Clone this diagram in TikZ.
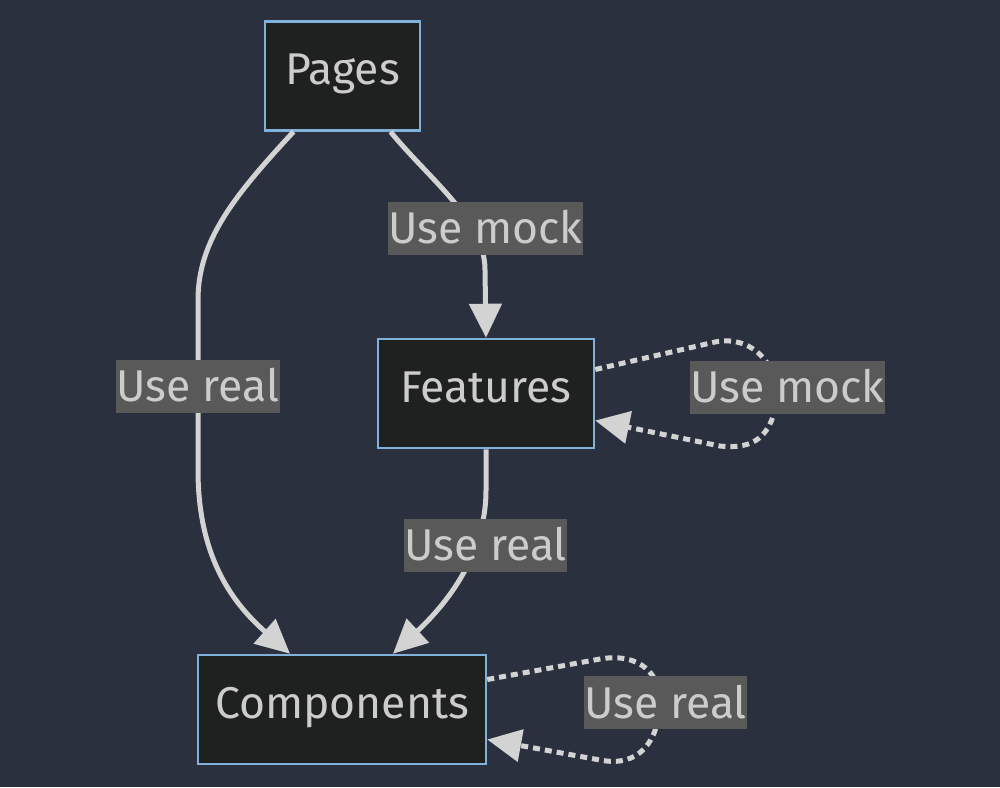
\documentclass[tikz,border=0pt]{standalone}
\usepackage{fontspec}
\setmainfont{Fira Sans}
\usetikzlibrary{arrows.meta,calc}
\definecolor{bg}{HTML}{2A303E}
\definecolor{nodefill}{HTML}{1F2020}
\definecolor{nodeborder}{HTML}{81B1DB}
\definecolor{linec}{HTML}{D3D3D3}
\definecolor{txt}{HTML}{CCCCCC}
\definecolor{lblbg}{HTML}{595959}
\tikzset{
  box/.style={draw=nodeborder, fill=nodefill, line width=2.5pt, text=txt,
    minimum height=109pt, inner sep=0pt, text height=32pt, text depth=15pt,
    font=\fontsize{44.5}{50}\selectfont},
  lbl/.style={fill=lblbg, text=txt, inner xsep=0.5pt, inner ysep=0pt,
    text height=31pt, text depth=0pt,
    minimum height=53pt, font=\fontsize{44.5}{50}\selectfont},
  edge/.style={draw=linec, line width=5pt, -{Triangle[length=34pt,width=32pt]}},
  dotedge/.style={edge, dash pattern=on 7pt off 5pt},
}
\begin{document}
\begin{tikzpicture}[x=1pt,y=-1pt]
\fill[bg] (0,0) rectangle (1000,787);
\useasboundingbox (0,0) rectangle (1000,787);
\node[box, minimum width=155pt] (pages) at (342.5,76) {Pages};
\node[box, minimum width=216pt] (feat) at (486,393.5) {Features};
\node[box, minimum width=288pt] (comp) at (342,709.5) {Components};

% Pages -> Components
\draw[edge] ([xshift=-49pt]pages.south) .. controls (235,195) and (198,240) .. (198,300)
  -- (198,470) .. controls (198,560) and (235,605) .. ([xshift=-52pt]comp.north);
% Pages -> Features
\draw[edge] ([xshift=48pt]pages.south) .. controls (430,180) and (485,220) .. (485,270)
  -- (feat.north);
% Features -> Components
\draw[edge] (feat.south) -- (486,490) .. controls (486,560) and (440,610) .. ([xshift=51pt]comp.north);
% Features self loop
\draw[dotedge] ([yshift=24pt]feat.east) -- (715,342) .. controls (755,334) and (782,370) .. (776,405)
  .. controls (770,435) and (755,450) .. (720,446) -- ([yshift=-27pt]feat.east);
% Components self loop
\draw[dotedge] ([yshift=30pt]comp.east) -- (600,659) .. controls (640,652) and (662,675) .. (660,705)
  .. controls (658,740) and (640,768) .. (600,760) -- ([yshift=-30pt]comp.east);

% labels
\node[lbl] (l1) at (198,386) {Use real};
\node[lbl] (l2) at (485.5,228) {Use mock};
\node[lbl] (l3) at (485.5,545) {Use real};
\node[lbl] (l4) at (787.5,387) {Use mock};
\node[lbl] (l5) at (665.5,702.5) {Use real};
\end{tikzpicture}
\end{document}
